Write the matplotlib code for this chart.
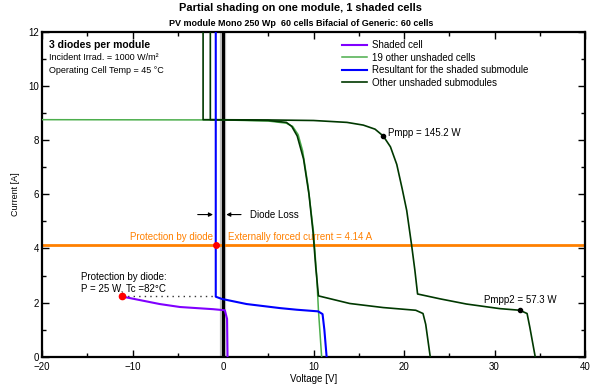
import matplotlib
matplotlib.use('Agg')
import matplotlib.pyplot as plt

FONT = ['Liberation Sans', 'DejaVu Sans']
PURPLE = '#8000ff'
LIGHT_GREEN = '#4cae4c'
BLUE = '#0000ff'
DARK_GREEN = '#003800'
ORANGE = '#ff8000'

# shaded cell
SHADED_V = [-11.2, -7.0, -4.75, -1.1, 0.2, 0.45, 0.5]
SHADED_I = [2.23, 1.95, 1.84, 1.76, 1.72, 1.4, 0.0]

# 19 other unshaded cells
OTHER_CELLS_V = [-20, 0, 5, 7.0, 7.7, 8.3, 8.8, 9.4, 10.0, 10.35, 10.55, 10.9]
OTHER_CELLS_I = [8.75, 8.74, 8.70, 8.62, 8.5, 8.2, 7.6, 6.3, 4.6, 3.0, 1.7, 0.0]

# resultant for the shaded submodule
RESULT_V = [-0.8, -0.8, -0.15, 2.6, 6.3, 8.15, 10.5, 11.0, 11.2, 11.45]
RESULT_I = [12, 2.22, 2.14, 1.95, 1.80, 1.74, 1.68, 1.58, 1.0, 0.0]

# other unshaded submodules (two curves)
SUB1_V = [-1.4, -1.4, 5, 7.0, 7.6, 8.2, 8.9, 9.5, 9.95, 10.25, 10.55, 14, 17.7, 21.3, 22.1, 22.4, 22.9]
SUB1_I = [12, 8.75, 8.72, 8.65, 8.5, 8.15, 7.3, 6.0, 4.6, 3.3, 2.25, 1.97, 1.82, 1.72, 1.6, 1.2, 0.0]
SUB2_V = [-2.2, -2.2, 5, 10, 13.7, 15.5, 16.8, 17.7, 18.5, 19.2, 19.8, 20.3, 20.85, 21.2, 21.5,
          24, 26.9, 30.6, 32.8, 33.6, 33.9, 34.5]
SUB2_I = [12, 8.75, 8.74, 8.72, 8.65, 8.55, 8.4, 8.15, 7.75, 7.1, 6.2, 5.4, 4.1, 3.2, 2.32,
          2.14, 1.95, 1.78, 1.72, 1.6, 1.1, 0.0]

FORCED_CURRENT = 4.14
PMPP = (17.7, 8.15)
PMPP2 = (32.8, 1.72)
PROTECT_POINT = (-11.2, 2.23)
DIODE_POINT = (-0.8, FORCED_CURRENT)

X_TICKS = [-20, -10, 0, 10, 20, 30, 40]
Y_TICKS = [0, 2, 4, 6, 8, 10, 12]

plt.rcParams['font.family'] = FONT

fig = plt.figure(figsize=(6, 3.85), dpi=100)
ax = fig.add_axes([0.07, 0.073, 0.905, 0.845])

# bypass diode line at 0 V
ax.plot([0, 0], [0, 12], color='#c0c0c0', lw=4.5, zorder=2)
ax.plot([0, 0], [0, 12], color='black', lw=2.2, zorder=3)

ax.axhline(FORCED_CURRENT, color=ORANGE, lw=2, zorder=2)

ax.plot(OTHER_CELLS_V, OTHER_CELLS_I, color=LIGHT_GREEN, lw=1.1, label='19 other unshaded cells', zorder=3)
ax.plot(SUB1_V, SUB1_I, color=DARK_GREEN, lw=1.2, zorder=4)
ax.plot(SUB2_V, SUB2_I, color=DARK_GREEN, lw=1.2, label='Other unshaded submodules', zorder=4)
ax.plot(RESULT_V, RESULT_I, color=BLUE, lw=1.5, label='Resultant for the shaded submodule', zorder=5)
ax.plot(SHADED_V, SHADED_I, color=PURPLE, lw=1.5, label='Shaded cell', zorder=5)

ax.plot([PROTECT_POINT[0], DIODE_POINT[0]], [PROTECT_POINT[1], PROTECT_POINT[1]],
        color='#333333', lw=1, ls=(0, (1, 3)), zorder=4)
ax.plot(*PROTECT_POINT, 'o', color='red', ms=4.5, zorder=6)
ax.plot(*DIODE_POINT, 'o', color='red', ms=4, zorder=6)
ax.plot(*PMPP, 'o', color='black', ms=3, zorder=6)
ax.plot(*PMPP2, 'o', color='black', ms=3, zorder=6)

# legend in the reference order
handles, labels = ax.get_legend_handles_labels()
order = ['Shaded cell', '19 other unshaded cells', 'Resultant for the shaded submodule', 'Other unshaded submodules']
hmap = dict(zip(labels, handles))
ax.legend([hmap[k] for k in order], order, loc='upper left', bbox_to_anchor=(0.537, 1.0),
          frameon=False, fontsize=7, handlelength=2.5, labelspacing=0.25, handletextpad=0.6)

# texts
ax.text(0.012, 0.96, '3 diodes per module', transform=ax.transAxes, fontsize=7.5, fontweight='bold', va='center')
ax.text(0.012, 0.92, 'Incident Irrad. = 1000 W/m²', transform=ax.transAxes, fontsize=6.5, va='center')
ax.text(0.012, 0.88, 'Operating Cell Temp = 45 °C', transform=ax.transAxes, fontsize=6.5, va='center')

ax.text(PMPP[0] + 0.5, PMPP[1] + 0.1, 'Pmpp = 145.2 W', fontsize=7, va='center')
ax.text(PMPP2[0], PMPP2[1] + 0.2, 'Pmpp2 = 57.3 W', fontsize=7, va='bottom', ha='center')

ax.text(-1.1, FORCED_CURRENT + 0.1, 'Protection by diode', color=ORANGE, fontsize=7, ha='right', va='bottom')
ax.text(0.6, FORCED_CURRENT + 0.1, 'Externally forced current = 4.14 A', color=ORANGE, fontsize=7,
        ha='left', va='bottom')
ax.text(-11.0, 2.35, 'Protection by diode:\nP = 25 W, Tc =82°C', fontsize=7, ha='center', va='bottom',
        linespacing=1.1)

# diode loss arrows
ax.annotate('', xy=(-0.8, 5.25), xytext=(-3.1, 5.25),
            arrowprops=dict(arrowstyle='-|>', color='black', lw=0.8, mutation_scale=6))
ax.annotate('', xy=(0.05, 5.25), xytext=(2.3, 5.25),
            arrowprops=dict(arrowstyle='-|>', color='black', lw=0.8, mutation_scale=6))
ax.text(3.0, 5.25, 'Diode Loss', fontsize=7, va='center')

ax.set_xlim(-20, 40)
ax.set_ylim(0, 12)
ax.set_xticks(X_TICKS)
ax.set_yticks(Y_TICKS)
ax.set_xticks([-15, -5, 5, 15, 25, 35], minor=True)
ax.set_yticks([1, 3, 5, 7, 9, 11], minor=True)
ax.tick_params(which='both', direction='in', top=True, right=True, labelsize=7, width=1)
ax.tick_params(axis='x', pad=4)
ax.tick_params(axis='y', pad=2)
ax.tick_params(which='major', length=5)
ax.tick_params(which='minor', length=3)
for spine in ax.spines.values():
    spine.set_linewidth(1.6)

ax.set_xlabel('Voltage [V]', fontsize=7, labelpad=1)
ax.set_ylabel('Current [A]', fontsize=6.5, labelpad=6)

fig.text(0.5, 0.978, 'Partial shading on one module, 1 shaded cells', fontsize=7.9, fontweight='bold',
         ha='center', va='center')
fig.text(0.502, 0.938, 'PV module Mono 250 Wp  60 cells Bifacial of Generic: 60 cells', fontsize=6.5,
         fontweight='bold', ha='center', va='center')

fig.savefig('out.png', dpi=100)
